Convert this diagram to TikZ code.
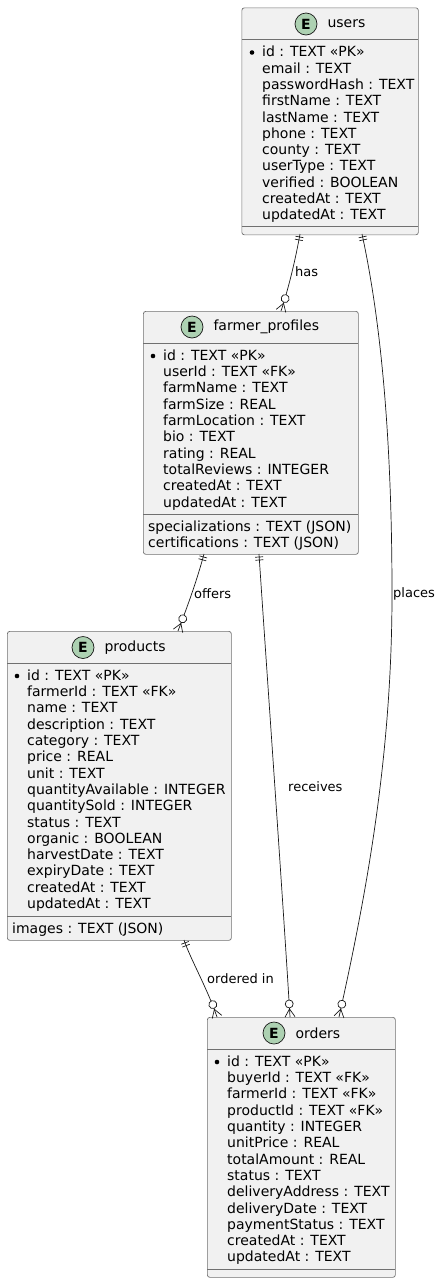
\documentclass[tikz,border=0pt]{standalone}
\usepackage{fontspec}
\setmainfont{DejaVu Sans}
\usetikzlibrary{positioning,decorations.markings}
\definecolor{boxfill}{HTML}{F1F1F1}
\definecolor{boxline}{HTML}{707070}
\definecolor{linkline}{HTML}{181818}
\definecolor{badgefill}{HTML}{ADD1B2}
\tikzset{
    entity/.style={draw=boxline, fill=boxfill, line width=0.7pt, rounded corners=2.5pt, anchor=north west, inner sep=0pt},
    badge/.style={circle, draw=linkline, fill=badgefill, line width=0.7pt, minimum size=22pt, inner sep=0pt, font=\fontsize{14}{16}\selectfont\bfseries},
    title/.style={font=\fontsize{14}{16}\selectfont, inner sep=0pt, text=black},
    fields/.style={font=\fontsize{14}{16.3}\selectfont, align=left, anchor=north west, inner sep=0pt, text=black},
    rel/.style={font=\fontsize{13}{15}\selectfont, inner sep=0pt, text=black},
    sep/.style={draw=boxline, line width=0.7pt},
    link/.style={draw=linkline, line width=0.7pt, postaction=decorate, decoration={markings,
        mark=at position 3pt with {\draw[linkline, line width=0.7pt] (0pt,-4pt) -- (0pt,4pt);},
        mark=at position 6pt with {\draw[linkline, line width=0.7pt] (0pt,-4pt) -- (0pt,4pt);},
        mark=at position -0.1pt with {
            \draw[linkline, line width=0.7pt, fill=white] (-13pt,0pt) circle (4pt);
            \draw[linkline, line width=0.7pt] (0pt,-5pt) -- (-8pt,0pt) -- (0pt,5pt);}}},
}
\begin{document}
\begin{tikzpicture}[x=1pt, y=-1pt]
    \useasboundingbox (0,0) rectangle (440,1283);

    % Link ends on the box edges
    \coordinate (usersHasEnd) at (300,234);
    \coordinate (usersPlacesEnd) at (362,234);
    \coordinate (farmerHasEnd) at (281,311);
    \coordinate (farmerOffersEnd) at (204,554);
    \coordinate (farmerReceivesEnd) at (259,554);
    \coordinate (productsOffersEnd) at (178,631);
    \coordinate (productsOrderedEnd) at (184,940);
    \coordinate (ordersOrderedEnd) at (217,1017);
    \coordinate (ordersReceivesEnd) at (290,1017);
    \coordinate (ordersPlacesEnd) at (339,1017);

    % Entity boxes
    \node[entity, minimum width=176.5pt, minimum height=227pt] (users) at (241.5,7.5) {};
    \node[entity, minimum width=215pt, minimum height=243pt] (farmer) at (143,311) {};
    \node[entity, minimum width=224pt, minimum height=309pt] (products) at (7,631) {};
    \node[entity, minimum width=188pt, minimum height=260pt] (orders) at (207,1017) {};

    \draw[link] (usersHasEnd) .. controls (295,262) and (288,290) .. (farmerHasEnd);
    \draw[link] (usersPlacesEnd) .. controls (385,340) and (392,470) .. (392,594) .. controls (392,760) and (365,900) .. (ordersPlacesEnd);
    \draw[link] (farmerOffersEnd) .. controls (197,580) and (188,605) .. (productsOffersEnd);
    \draw[link] (farmerReceivesEnd) .. controls (266,660) and (283,900) .. (ordersReceivesEnd);
    \draw[link] (productsOrderedEnd) .. controls (190,958) and (208,990) .. (ordersOrderedEnd);

    % Titles
    \node[badge] (usersBadge) at (306,24) {E};
    \node[title, right=10pt of usersBadge] (usersTitle) {users};
    \node[badge] (farmerBadge) at (192,327) {E};
    \node[title, right=10pt of farmerBadge] (farmerTitle) {farmer\_profiles};
    \node[badge] (productsBadge) at (83,647.5) {E};
    \node[title, right=10pt of productsBadge] (productsTitle) {products};
    \node[badge] (ordersBadge) at (274,1033) {E};
    \node[title, right=10pt of ordersBadge] (ordersTitle) {orders};

    % Compartment rules
    \draw[sep] (241.5,39.5) -- (418,39.5);
    \draw[sep] (241.5,226) -- (418,226);
    \draw[sep] (143,343) -- (358,343);
    \draw[sep] (143,514) -- (358,514);
    \draw[sep] (7,663) -- (231,663);
    \draw[sep] (7,916) -- (231,916);
    \draw[sep] (207,1049) -- (395,1049);
    \draw[sep] (207,1269) -- (395,1269);

    % Key bullets
    \foreach \px/\py in {252/52.5, 153/356, 17/676, 217/1062} \fill[black] (\px,\py) circle (2.3pt);

    % Members
    \node[fields] (usersFields) at (262,46) {id : TEXT «PK»\\email : TEXT\\passwordHash : TEXT\\firstName : TEXT\\lastName : TEXT\\phone : TEXT\\county : TEXT\\userType : TEXT\\verified : BOOLEAN\\createdAt : TEXT\\updatedAt : TEXT};
    \node[fields] (farmerFields) at (163,349.5) {id : TEXT «PK»\\userId : TEXT «FK»\\farmName : TEXT\\farmSize : REAL\\farmLocation : TEXT\\bio : TEXT\\rating : REAL\\totalReviews : INTEGER\\createdAt : TEXT\\updatedAt : TEXT};
    \node[fields] (farmerExtra) at (148,520.5) {specializations : TEXT (JSON)\\certifications : TEXT (JSON)};
    \node[fields] (productsFields) at (27,669.5) {id : TEXT «PK»\\farmerId : TEXT «FK»\\name : TEXT\\description : TEXT\\category : TEXT\\price : REAL\\unit : TEXT\\quantityAvailable : INTEGER\\quantitySold : INTEGER\\status : TEXT\\organic : BOOLEAN\\harvestDate : TEXT\\expiryDate : TEXT\\createdAt : TEXT\\updatedAt : TEXT};
    \node[fields] (productsExtra) at (12,922.5) {images : TEXT (JSON)};
    \node[fields] (ordersFields) at (227,1055.5) {id : TEXT «PK»\\buyerId : TEXT «FK»\\farmerId : TEXT «FK»\\productId : TEXT «FK»\\quantity : INTEGER\\unitPrice : REAL\\totalAmount : REAL\\status : TEXT\\deliveryAddress : TEXT\\deliveryDate : TEXT\\paymentStatus : TEXT\\createdAt : TEXT\\updatedAt : TEXT};

    % Link labels
    \node[rel, anchor=west] (hasLabel) at (295,272) {has};
    \node[rel, anchor=west] (placesLabel) at (393,594) {places};
    \node[rel, anchor=west] (offersLabel) at (194,594) {offers};
    \node[rel, anchor=west] (receivesLabel) at (288,787) {receives};
    \node[rel, anchor=west] (orderedLabel) at (207,979) {ordered in};
\end{tikzpicture}
\end{document}
